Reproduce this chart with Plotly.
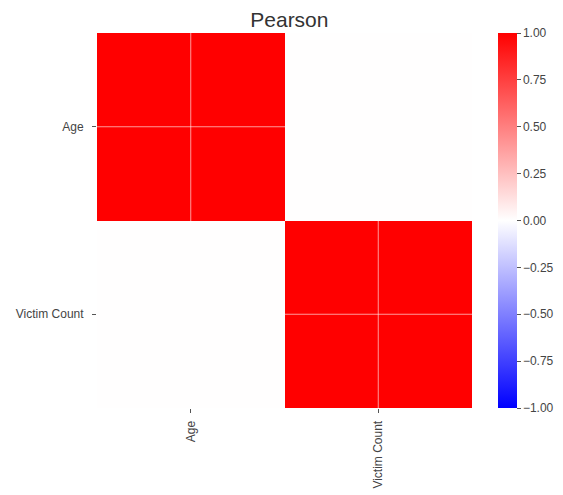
import plotly.graph_objects as go

labels = ["Age", "Victim Count"]
corr = [[1.0, 0.005],
        [0.005, 1.0]]
cbar_ticks = [-1.0, -0.75, -0.5, -0.25, 0.0, 0.25, 0.5, 0.75, 1.0]

fig = go.Figure(go.Heatmap(
    z=corr, x=labels, y=labels,
    zmin=-1, zmax=1,
    colorscale=[[0, "#0000ff"], [0.5, "#ffffff"], [1, "#ff0000"]],
    colorbar=dict(
        thickness=19, len=1, lenmode="fraction", y=0, yanchor="bottom", ypad=0,
        x=1.069, xpad=0, xanchor="left", outlinewidth=0,
        tickvals=cbar_ticks, tickformat=".2f",
        ticks="outside", ticklen=4, tickcolor="#555",
        tickfont=dict(size=12, color="#444", family="Liberation Sans"),
    ),
    showscale=True,
))

# white grid lines through cell centres, drawn above the heatmap
for lab in labels:
    fig.add_shape(type="line", xref="x", yref="paper", x0=lab, x1=lab, y0=0, y1=1,
                  line=dict(color="rgba(255,255,255,0.6)", width=1), layer="above")
    fig.add_shape(type="line", xref="paper", yref="y", x0=0, x1=1, y0=lab, y1=lab,
                  line=dict(color="rgba(255,255,255,0.6)", width=1), layer="above")

# page body adds an 8px offset, so the figure is sized to fit the window
fig.update_layout(
    width=555, height=487,
    margin=dict(l=89, r=91, t=25, b=87, autoexpand=False),
    paper_bgcolor="white", plot_bgcolor="white",
    title=dict(text="Pearson", x=0.507, xanchor="center", y=1 - 12 / 487, yanchor="middle",
               font=dict(size=21, color="#333", family="Liberation Sans")),
    font=dict(family="Liberation Sans", size=12, color="#444"),
    xaxis=dict(showgrid=False, ticks="outside", ticklen=4, tickcolor="#555",
               tickangle=-90, showline=False, zeroline=False, automargin=False,
               ticklabelstandoff=3),
    yaxis=dict(showgrid=False, ticks="outside", ticklen=4, tickcolor="#555",
               autorange="reversed", showline=False, zeroline=False, automargin=False,
               ticklabelstandoff=6),
)

fig.write_html("out.html")
